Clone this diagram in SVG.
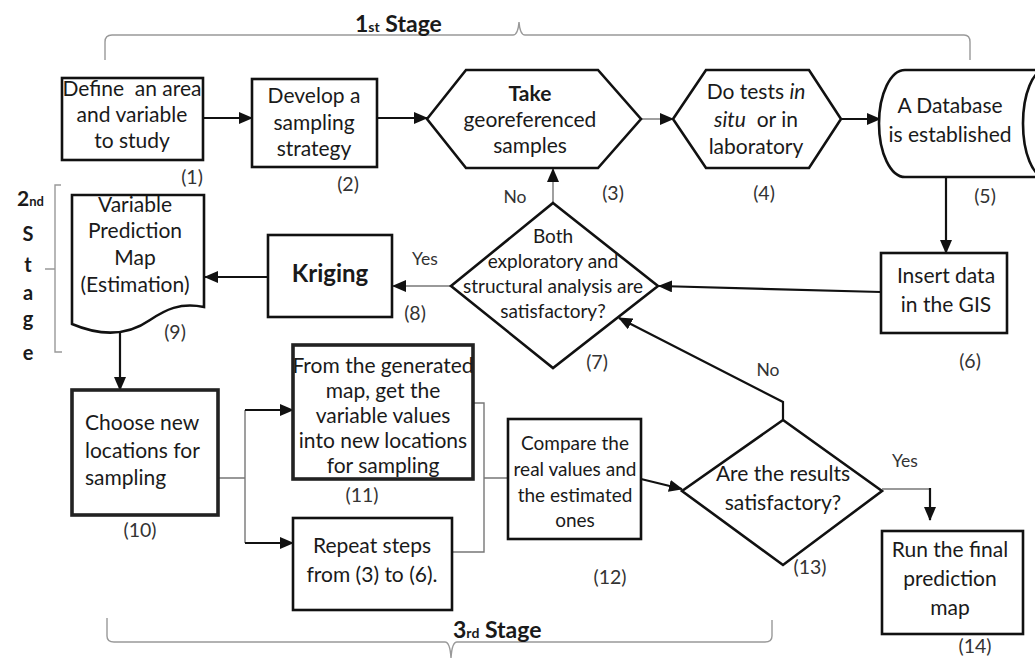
<svg xmlns="http://www.w3.org/2000/svg" width="1035" height="660" viewBox="0 0 1035 660">
<defs>
<marker id="ah" markerUnits="userSpaceOnUse" markerWidth="14" markerHeight="12" refX="13" refY="6" orient="auto">
<path d="M0,0 L14,6 L0,12 Z" fill="#111"/>
</marker>
<style>
.box{fill:#fff;stroke:#111;stroke-width:2.6}
.thick{fill:#fff;stroke:#222;stroke-width:3.6}
.t{font-family:Lato,"Open Sans","Liberation Sans",sans-serif;font-size:21px;fill:#1a1a1a;text-anchor:middle}
.tl{font-family:Lato,"Open Sans","Liberation Sans",sans-serif;font-size:21px;fill:#1a1a1a}
.s{font-family:Lato,"Open Sans","Liberation Sans",sans-serif;font-size:19px;fill:#1a1a1a;text-anchor:middle}
.n{font-family:Lato,"Open Sans","Liberation Sans",sans-serif;font-size:19.5px;fill:#333;text-anchor:middle}
.y{font-family:Lato,"Open Sans","Liberation Sans",sans-serif;font-size:17.5px;fill:#333;text-anchor:middle}
.b{font-family:Lato,"Open Sans","Liberation Sans",sans-serif;font-weight:bold;fill:#1a1a1a}
.c{fill:none;stroke:#111;stroke-width:2.2}
.g{fill:none;stroke:#777;stroke-width:1.4}
.br{fill:none;stroke:#999;stroke-width:1.4}
</style>
</defs>
<rect width="1035" height="660" fill="#fff"/>

<g id="stage1">
<path class="br" d="M105,60 L105,42 Q105,35 112,35 L513,35 Q518,35 519,22 Q520,35 525,35 L964,35 Q970,35 970,42 L970,60"/>
<text class="b" x="355" y="32" font-size="23">1<tspan font-size="14">st</tspan> Stage</text>
</g>

<g id="stage2">
<path class="br" d="M61,185 L55,185 L55,352 L62,352 M45,269 L55,269"/>
<text class="b" x="17" y="206" font-size="21">2<tspan font-size="13">nd</tspan></text>
<text class="b" font-size="20" text-anchor="middle" x="28"><tspan x="28" y="241">S</tspan><tspan x="28" y="272">t</tspan><tspan x="28" y="300">a</tspan><tspan x="28" y="326">g</tspan><tspan x="28" y="360">e</tspan></text>
</g>

<g id="stage3">
<path class="br" d="M107,618 L107,636 Q107,642 114,642 L445,642 Q450,642 451,658 Q452,642 457,642 L765,642 Q772,642 772,636 L772,620"/>
<text class="b" x="453" y="638" font-size="23">3<tspan font-size="14">rd</tspan> Stage</text>
</g>

<g id="connectors">
<path class="c" d="M203,118 L252,118" marker-end="url(#ah)"/>
<path class="c" d="M377,118 L427,118" marker-end="url(#ah)"/>
<path class="g" d="M641,119 L673,119" marker-end="url(#ah)"/>
<path class="c" d="M841,119 L880,119" marker-end="url(#ah)"/>
<path class="c" d="M946,177 L946,253" marker-end="url(#ah)"/>
<path class="c" d="M881,292 L659,286" marker-end="url(#ah)"/>
<path class="g" d="M553,203 L553,169" marker-end="url(#ah)"/>
<path class="g" d="M451,286 L393,286" marker-end="url(#ah)"/>
<path class="c" d="M268,277 L205,277" marker-end="url(#ah)"/>
<path class="c" d="M120,333 L120,390" marker-end="url(#ah)"/>
<path class="g" d="M218,478 L245,478 M245,410 L245,543"/>
<path class="c" d="M245,410 L293,410" marker-end="url(#ah)"/>
<path class="c" d="M245,543 L293,543" marker-end="url(#ah)"/>
<path class="g" d="M473,403 L484,403 L484,552 L452,552 M484,478 L508,478"/>
<path class="c" d="M641,479 L682,489" marker-end="url(#ah)"/>
<path class="c" d="M783,420 L783,402 L619,318" marker-end="url(#ah)"/>
<path class="g" d="M882,489 L930,489"/>
<path class="c" d="M930,488 L930,520" marker-end="url(#ah)"/>
<text class="y" x="515" y="203">No</text>
<text class="y" x="425" y="265">Yes</text>
<text class="y" x="768" y="376">No</text>
<text class="y" x="905" y="467">Yes</text>
</g>

<g id="n1">
<rect class="box" x="62" y="78" width="141" height="82"/>
<text class="t"><tspan x="132" y="96">Define&#160; an area</tspan><tspan x="132" y="122">and variable</tspan><tspan x="132" y="148">to study</tspan></text>
<text class="n" x="192" y="184">(1)</text>
</g>

<g id="n2">
<rect class="box" x="252" y="79" width="125" height="88"/>
<text class="t"><tspan x="314" y="103">Develop a</tspan><tspan x="314" y="130">sampling</tspan><tspan x="314" y="156">strategy</tspan></text>
<text class="n" x="348" y="191">(2)</text>
</g>

<g id="n3">
<polygon class="box" points="427,119 466,70 598,70 641,119 598,168 466,168"/>
<text class="t" font-size="22"><tspan x="530" y="101" font-weight="bold">Take</tspan><tspan x="530" y="127">georeferenced</tspan><tspan x="530" y="153">samples</tspan></text>
<text class="n" x="613" y="200">(3)</text>
</g>

<g id="n4">
<polygon class="box" points="673,119 706,70 809,70 841,119 809,168 706,168"/>
<text class="t"><tspan x="756" y="99">Do tests <tspan font-style="italic">in</tspan></tspan><tspan x="756" y="127"><tspan font-style="italic">situ</tspan>&#160; or in</tspan><tspan x="756" y="154">laboratory</tspan></text>
<text class="n" x="764" y="200">(4)</text>
</g>

<g id="n5">
<path class="box" d="M1045,70 L905,70 A26,53.5 0 0 0 905,177 L1045,177"/>
<path class="box" d="M1045,70 A22,53.5 0 0 0 1045,177" fill="none"/>
<text class="t"><tspan x="950" y="113">A Database</tspan><tspan x="950" y="142">is established</tspan></text>
<text class="n" x="985" y="203">(5)</text>
</g>

<g id="n6">
<rect class="box" x="881" y="253" width="126" height="80"/>
<text class="t"><tspan x="946" y="283">Insert data</tspan><tspan x="946" y="312">in the GIS</tspan></text>
<text class="n" x="970" y="368">(6)</text>
</g>

<g id="n7">
<polygon class="box" points="553,203 658,286 553,368 451,286"/>
<text class="s"><tspan x="553" y="243">Both</tspan><tspan x="553" y="268">exploratory and</tspan><tspan x="553" y="293">structural analysis are</tspan><tspan x="553" y="318">satisfactory?</tspan></text>
<text class="n" x="597" y="369">(7)</text>
</g>

<g id="n8">
<rect class="box" x="268" y="235" width="124" height="82"/>
<text class="b" x="330" y="282" font-size="24" text-anchor="middle">Kriging</text>
<text class="n" x="415" y="320">(8)</text>
</g>

<g id="n9">
<path class="box" d="M72,195 L204,195 L204,307 C180,302 165,310 150,320 C130,334 105,338 72,324 Z"/>
<text class="t"><tspan x="135" y="212">Variable</tspan><tspan x="135" y="238">Prediction</tspan><tspan x="135" y="265">Map</tspan><tspan x="135" y="292">(Estimation)</tspan></text>
<text class="n" x="175" y="339">(9)</text>
</g>

<g id="n10">
<rect class="thick" x="72" y="390" width="146" height="125"/>
<text class="tl"><tspan x="85" y="430">Choose new</tspan><tspan x="85" y="458">locations for</tspan><tspan x="85" y="485">sampling</tspan></text>
<text class="n" x="140" y="537">(10)</text>
</g>

<g id="n11">
<rect class="thick" x="293" y="345" width="180" height="134"/>
<text class="t" font-size="19.5"><tspan x="383" y="373">From the generated</tspan><tspan x="383" y="398">map, get the</tspan><tspan x="383" y="423">variable values</tspan><tspan x="383" y="448">into new locations</tspan><tspan x="383" y="473">for sampling</tspan></text>
<text class="n" x="362" y="502">(11)</text>
</g>

<g id="n11b">
<rect class="box" x="293" y="518" width="159" height="92"/>
<text class="t"><tspan x="372" y="553">Repeat steps</tspan><tspan x="372" y="582">from (3) to (6).</tspan></text>
</g>

<g id="n12">
<rect class="box" x="508" y="419" width="133" height="120"/>
<text class="s"><tspan x="575" y="450">Compare the</tspan><tspan x="575" y="476">real values and</tspan><tspan x="575" y="502">the estimated</tspan><tspan x="575" y="527">ones</tspan></text>
<text class="n" x="610" y="584">(12)</text>
</g>

<g id="n13">
<polygon class="box" points="783,420 882,491 783,565 682,491"/>
<text class="t" font-size="21.5"><tspan x="783" y="481">Are the results</tspan><tspan x="783" y="510">satisfactory?</tspan></text>
<text class="n" x="810" y="574">(13)</text>
</g>

<g id="n14">
<rect class="box" x="882" y="531" width="141" height="103"/>
<text class="t"><tspan x="950" y="557">Run the final</tspan><tspan x="950" y="586">prediction</tspan><tspan x="950" y="615">map</tspan></text>
<text class="n" x="975" y="653">(14)</text>
</g>
</svg>
